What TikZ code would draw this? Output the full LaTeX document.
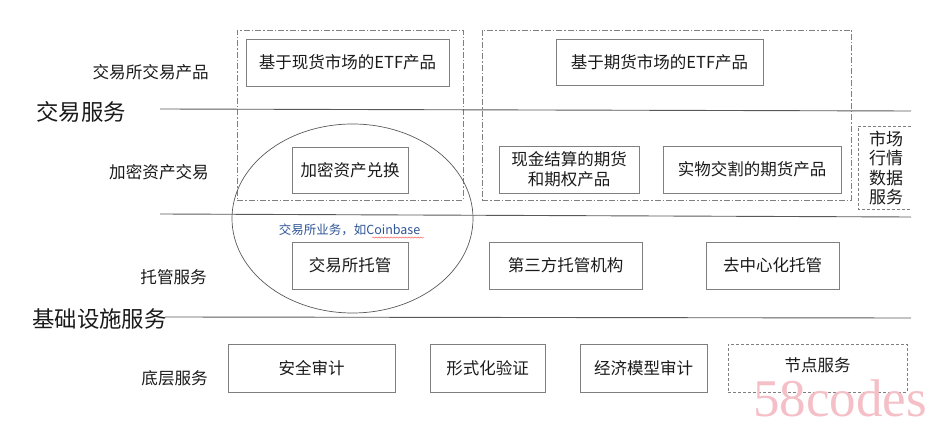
\documentclass[tikz,border=0pt]{standalone}
\usepackage{fontspec}
\setmainfont{Noto Sans CJK SC}
\newfontfamily\wmfont{Liberation Serif}
\usetikzlibrary{decorations.pathmorphing,shapes.geometric}
\definecolor{boxgray}{HTML}{7F7F7F}
\definecolor{linegray}{HTML}{595959}
\definecolor{txt}{HTML}{1A1A1A}
\definecolor{bluetxt}{HTML}{2F5597}
\definecolor{wmpink}{HTML}{F4BFC6}
\tikzset{
  box/.style={draw=boxgray, line width=0.9pt, inner sep=0pt, text=txt, font=\fontsize{16.5}{20}\selectfont, align=center},
  dotbox/.style={box, dash pattern=on 3pt off 2pt},
  grp/.style={draw=boxgray, line width=0.8pt, dash pattern=on 6pt off 2pt on 1.5pt off 2pt, inner sep=0pt},
  lab/.style={text=txt, font=\fontsize{16.6}{20}\selectfont, inner sep=0pt},
  biglab/.style={text=txt, font=\fontsize{22.4}{26}\selectfont, inner sep=0pt},
  sep/.style={draw=linegray, line width=0.9pt},
}
\begin{document}
\begin{tikzpicture}[x=1pt,y=-1pt]
\useasboundingbox (0,0) rectangle (950,427);
% groups
\node[grp, minimum width=226pt, minimum height=170pt] (g1) at (350,115) {};
\node[grp, minimum width=369pt, minimum height=170pt] (g2) at (666.5,115) {};
% ellipse
\node[draw=linegray, line width=0.7pt, ellipse, minimum width=241pt, minimum height=189pt, inner sep=0pt] (ell) at (352.5,218.5) {};
% separator lines
\coordinate (l1a) at (160,109); \coordinate (l1b) at (911,111);
\coordinate (l2a) at (160,214); \coordinate (l2b) at (911,217);
\coordinate (l3a) at (165,317); \coordinate (l3b) at (911,318);
\draw[sep] (l1a) -- (l1b);
\draw[sep] (l2a) -- (l2b);
\draw[sep] (l3a) -- (l3b);
% boxes
\node[box, minimum width=203pt, minimum height=47pt] (b1) at (347.5,62.5) {基于现货市场的ETF产品};
\node[box, minimum width=207pt, minimum height=46pt] (b2) at (659.5,62) {基于期货市场的ETF产品};
\node[box, minimum width=116pt, minimum height=46pt] (b3) at (350,170) {加密资产兑换};
\node[box, minimum width=140pt, minimum height=47pt] (b4) at (569,169.5) {现金结算的期货\\和期权产品};
\node[box, minimum width=178pt, minimum height=47pt] (b5) at (752,169.5) {实物交割的期货产品};
\node[box, minimum width=116pt, minimum height=47pt] (b6) at (350,265.5) {交易所托管};
\node[box, minimum width=153pt, minimum height=47pt] (b7) at (565.5,265.5) {第三方托管机构};
\node[box, minimum width=133pt, minimum height=47pt] (b8) at (772.5,265.5) {去中心化托管};
\node[box, minimum width=167pt, minimum height=48pt] (b9) at (311.5,368) {安全审计};
\node[box, minimum width=115pt, minimum height=48pt] (b10) at (487.5,368) {形式化验证};
\node[box, minimum width=127pt, minimum height=48pt] (b11) at (643.5,368) {经济模型审计};
\node[dotbox, minimum width=179pt, minimum height=48pt] (b12) at (817.5,368) {};
\node[inner sep=0pt, text=txt, font=\fontsize{16.5}{20}\selectfont] (b12t) at (817.5,365) {节点服务};
% market data box (open on the right)
\coordinate (m1) at (911,126); \coordinate (m2) at (858,126);
\coordinate (m3) at (858,209); \coordinate (m4) at (911,209);
\draw[draw=boxgray, line width=0.9pt, dash pattern=on 3pt off 2pt] (m1) -- (m2) -- (m3) -- (m4);
\node[lab, align=center, font=\fontsize{17}{19.5}\selectfont] (mkt) at (886,168) {市场\\行情\\数据\\服务};
% left labels
\node[lab, anchor=east] (t1) at (209,72) {交易所交易产品};
\node[lab, anchor=east] (t2) at (209,172) {加密资产交易};
\node[lab, anchor=east] (t3) at (207,277) {托管服务};
\node[lab, anchor=east] (t4) at (208,378) {底层服务};
\node[biglab, anchor=west] (h1) at (36,112) {交易服务};
\node[biglab, anchor=west] (h2) at (32,319) {基础设施服务};
% exchange note
\node[inner sep=0pt, text=bluetxt, font=\fontsize{12.5}{15}\selectfont] (note) at (349.5,229.5) {交易所业务，如Coinbase};
\coordinate (wv1) at (372,237.5); \coordinate (wv2) at (424,237.5);
\draw[red!70, line width=0.4pt, decorate, decoration={snake, amplitude=0.6pt, segment length=3pt}] (wv1) -- (wv2);
% watermark
\node[inner sep=0pt, anchor=base west, text=wmpink, font=\wmfont\fontsize{53}{58}\selectfont] (wm) at (753,416) {58codes};
\end{tikzpicture}
\end{document}
